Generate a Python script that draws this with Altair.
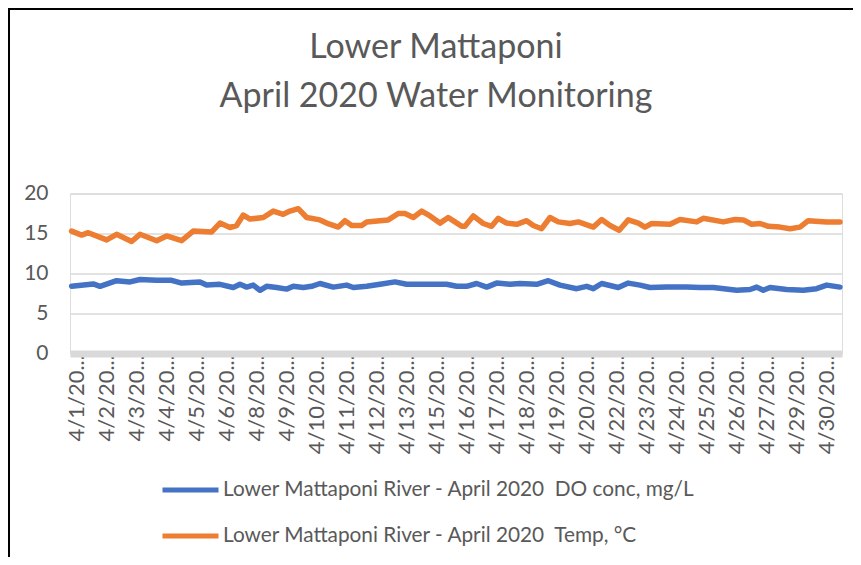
import altair as alt
import pandas as pd

TITLE = ["Lower Mattaponi", "April 2020 Water Monitoring"]
SERIES = ["Lower Mattaponi River - April 2020\u00a0 DO conc, mg/L",
          "Lower Mattaponi River - April 2020\u00a0 Temp, \u00b0C"]
COLORS = ["#4472C4", "#ED7D31"]

# x = hours after the first labelled category (4/1/2020)
do_hours = [-5, 15.2, 21.5, 37, 49.5, 58.8, 74.4, 88.4, 97.7, 114.8, 121, 133.5, 145.9, 152.1,
            158.4, 164.5, 170.8, 177, 186.4, 195.7, 201.9, 211.2, 219, 226.8, 239.2, 251.7,
            257.9, 270.4, 282.8, 296.8, 307.7, 320.1, 332.5, 345, 354.4, 363.7, 373, 382.4,
            391.7, 404.1, 413.5, 429, 439.9, 450.8, 466.4, 475.7, 481.9, 489.7, 505.2, 514.5,
            525.5, 534.8, 550.4, 569, 581.5, 593.9, 615.7, 628.1, 634.4, 640.5, 646.8, 662.3,
            677.9, 690.3, 699.7, 712.1]
do_values = [8.4, 8.7, 8.4, 9.1, 8.95, 9.25, 9.15, 9.15, 8.8, 8.95, 8.55, 8.65, 8.25, 8.65,
             8.3, 8.55, 7.9, 8.4, 8.25, 8.05, 8.4, 8.25, 8.4, 8.75, 8.3, 8.55,
             8.25, 8.4, 8.65, 8.95, 8.65, 8.65, 8.65, 8.65, 8.4, 8.4, 8.75, 8.3,
             8.8, 8.65, 8.75, 8.65, 9.1, 8.55, 8.1, 8.4, 8.1, 8.75, 8.25, 8.8,
             8.55, 8.25, 8.3, 8.3, 8.25, 8.25, 7.9, 8.0, 8.3, 7.9, 8.25, 8.0,
             7.9, 8.1, 8.55, 8.3]

temp_hours = [-5, 4.4, 10.5, 27.7, 37, 51, 58.8, 74.4, 83.7, 97.7, 108.5, 125.7, 133.5, 142.8,
              149, 155.2, 161.5, 173.9, 183.2, 192.5, 198.8, 206.5, 214.4, 226.8, 233, 243.9,
              250.1, 256.4, 265.7, 270.4, 282.8, 290.5, 299.9, 306.1, 313.9, 321.7, 329.5,
              338.8, 346.5, 352.8, 359, 362.1, 369.9, 379.2, 387, 393.2, 401, 410.4, 419.7,
              425.9, 433.7, 441.5, 449.2, 460.1, 468, 481.9, 489.7, 497.5, 506.1, 514.5, 523.9,
              530.1, 536.4, 553.5, 562.8, 578.4, 584.5, 603.2, 614.1, 621.9, 629.7, 637.5,
              645.2, 656.1, 665.5, 674.8, 682.5, 699.7, 712.1]
temp_values = [15.3, 14.8, 15.1, 14.2, 14.9, 14.0, 14.9, 14.1, 14.7, 14.1, 15.3, 15.2, 16.3, 15.75,
               16.0, 17.3, 16.8, 17.0, 17.8, 17.4, 17.8, 18.1, 17.0, 16.7, 16.3, 15.8,
               16.6, 16.0, 16.0, 16.45, 16.6, 16.7, 17.5, 17.5, 17.0, 17.8, 17.2,
               16.3, 17.0, 16.45, 15.9, 15.9, 17.2, 16.25, 15.9, 16.9, 16.3, 16.15, 16.6,
               16.0, 15.6, 17.0, 16.45, 16.25, 16.45, 15.8, 16.75, 16.0, 15.4, 16.7, 16.3,
               15.8, 16.25, 16.15, 16.75, 16.45, 16.9, 16.45, 16.75, 16.7, 16.15, 16.25,
               15.9, 15.8, 15.6, 15.8, 16.6, 16.45, 16.45]

tick_hours = [0, 28, 56, 84, 112, 140, 168, 196, 224, 252, 280, 308, 336, 364, 392, 420, 448,
              476, 504, 532, 560, 588, 616, 644, 672, 700]
tick_labels = ["4/1/20...", "4/2/20...", "4/3/20...", "4/4/20...", "4/5/20...", "4/6/20...",
               "4/8/20...", "4/9/20...", "4/10/20...", "4/11/20...", "4/12/20...", "4/13/20...",
               "4/15/20...", "4/16/20...", "4/17/20...", "4/18/20...", "4/19/20...", "4/20/20...",
               "4/22/20...", "4/23/20...", "4/24/20...", "4/25/20...", "4/26/20...", "4/27/20...",
               "4/29/20...", "4/30/20..."]
y_ticks = [0, 5, 10, 15, 20]

FONT = "Lato"
TEXT = "#595959"

df = pd.concat([
    pd.DataFrame({"hour": do_hours, "value": do_values, "series": SERIES[0], "k": 0}),
    pd.DataFrame({"hour": temp_hours, "value": temp_values, "series": SERIES[1], "k": 1}),
])

label_expr = "[" + ",".join("'" + t + "'" for t in tick_labels) + "][round(datum.value / 28)]"

lines = alt.Chart(df).mark_line(strokeWidth=5.5, strokeCap="round", strokeJoin="round").encode(
    x=alt.X("hour:Q",
            scale=alt.Scale(domain=[-6.5, 714], nice=False, zero=False),
            axis=alt.Axis(values=tick_hours, labelExpr=label_expr, labelAngle=-90,
                          labelAlign="right", labelBaseline="middle",
                          title=None, grid=False, ticks=False,
                          domainColor="#d9d9d9", domainWidth=7,
                          labelFont=FONT, labelFontSize=22, labelColor=TEXT,
                          labelPadding=1, labelOverlap=False, labelBound=False, labelFlush=False)),
    y=alt.Y("value:Q",
            scale=alt.Scale(domain=[0, 20], nice=False),
            axis=alt.Axis(values=y_ticks, title=None, domain=False, ticks=False,
                          gridColor="#d9d9d9", gridWidth=1.5,
                          labelFont=FONT, labelFontSize=21, labelColor=TEXT, labelPadding=22)),
    color=alt.Color("series:N",
                    scale=alt.Scale(domain=SERIES, range=COLORS),
                    legend=alt.Legend(title=None, orient="none", legendX=90, legendY=266,
                                      direction="vertical", symbolType="stroke",
                                      symbolSize=3136, symbolStrokeWidth=5,
                                      labelFont=FONT, labelFontSize=20.8, labelColor=TEXT,
                                      labelLimit=0, rowPadding=5, padding=0, labelOffset=2)),
    detail="k:N",
)

frame = pd.DataFrame({"a": [0]})
left_border = alt.Chart(frame).mark_rule(color="black", strokeWidth=2).encode(
    x=alt.value(-61), y=alt.value(-186), y2=alt.value(380))
top_border = alt.Chart(frame).mark_rule(color="black", strokeWidth=2).encode(
    x=alt.value(-62), x2=alt.value(800), y=alt.value(-184.5))

chart = alt.layer(lines, left_border, top_border).properties(
    width=772, height=160,
    autosize=alt.AutoSizeParams(type="none"),
    padding={"left": 62, "top": 185.5, "right": 11, "bottom": 203},
    title=alt.TitleParams(text=TITLE, anchor="middle", frame="group", fontSize=34, font=FONT,
                          fontWeight="normal", color=TEXT, lineHeight=49, offset=-107, dx=-20),
).configure_view(stroke=None).configure(background="white")

chart.save("out.html", embed_options={"renderer": "svg", "actions": False})
